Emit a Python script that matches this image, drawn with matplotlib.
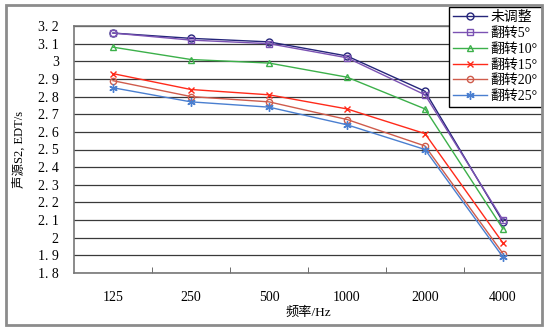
import matplotlib
matplotlib.use("Agg")
import matplotlib.pyplot as plt
from matplotlib.patches import Rectangle
import numpy as np

freqs = ["125", "250", "500", "1000", "2000", "4000"]
series_names = ["未调整", "翻转5°", "翻转10°", "翻转15°", "翻转20°", "翻转25°"]
edt_none = [3.16, 3.13, 3.11, 3.03, 2.83, 2.09]
edt_5 = [3.16, 3.12, 3.10, 3.02, 2.81, 2.10]
edt_10 = [3.08, 3.01, 2.99, 2.91, 2.73, 2.05]
edt_15 = [2.93, 2.84, 2.81, 2.73, 2.59, 1.97]
edt_20 = [2.89, 2.80, 2.77, 2.67, 2.52, 1.91]
edt_25 = [2.85, 2.77, 2.74, 2.64, 2.50, 1.89]
y_ticks = [1.8, 1.9, 2.0, 2.1, 2.2, 2.3, 2.4, 2.5, 2.6, 2.7, 2.8, 2.9, 3.0, 3.1, 3.2]

fonts = ["Liberation Serif", "Noto Sans CJK SC"]
plt.rcParams["font.family"] = fonts

W, H = 546, 330
fig = plt.figure(figsize=(W / 100, H / 100), dpi=100)
fig.patch.set_facecolor("white")

# outer frame around the whole chart
fig.patches.append(Rectangle((6 / W, 5 / H), 536 / W, 320 / H, transform=fig.transFigure,
                             fill=False, edgecolor="#8c8c8c", linewidth=2))

ax = fig.add_axes([74 / W, (H - 273) / H, (542 - 74) / W, (273 - 26) / H])
x = np.arange(len(freqs))

styles = [
    (edt_none, "#25257a", "o", 5),
    (edt_5, "#7b52b3", "s", 5),
    (edt_10, "#3cb04a", "^", 5),
    (edt_15, "#ff2a1a", "x", 5),
    (edt_20, "#cf5c4c", "o", 4.5),
    (edt_25, "#4a7fd0", (6, 2, 0), 6),
]
for (vals, col, mk, ms), name in zip(styles, series_names):
    ax.plot(x, vals, color=col, lw=1, marker=mk, ms=ms, mfc="none", mec=col,
            mew=1, label=name)

ax.set_xlim(-0.5, len(freqs) - 0.5)
ax.set_ylim(1.8, 3.2)
ax.set_yticks(y_ticks)
ax.set_yticklabels([("%g" % v).replace(".", ". ") for v in y_ticks], fontsize=10)
ax.yaxis.grid(True, color="#3a3a3a", lw=0.9)
ax.set_axisbelow(True)
ax.tick_params(axis="y", length=0, pad=11)

ax.set_xticks(x)
ax.set_xticklabels(freqs, fontsize=10)
ax.set_xticks(np.arange(0.5, len(freqs) - 1, 1.0), minor=True)
ax.tick_params(axis="x", which="major", length=0, pad=13)
ax.tick_params(axis="x", which="minor", direction="in", length=4, color="#555555")

for side in ["left", "bottom", "top"]:
    ax.spines[side].set_color("#777777")
    ax.spines[side].set_linewidth(1.2)
ax.spines["right"].set_visible(False)

ax.set_ylabel("声源S2, EDT/s", fontsize=9, labelpad=9)
ax.set_xlabel("频率/Hz", fontsize=9.5, labelpad=2)

leg = ax.legend(loc="upper right", bbox_to_anchor=(1.0, 1.077), fontsize=10,
                frameon=True, fancybox=False, edgecolor="black", framealpha=1,
                handlelength=2.4, labelspacing=0.2, borderpad=0.3, handletextpad=0.3,
                borderaxespad=0)
leg.get_frame().set_linewidth(1)

fig.savefig("out.png", dpi=100)
